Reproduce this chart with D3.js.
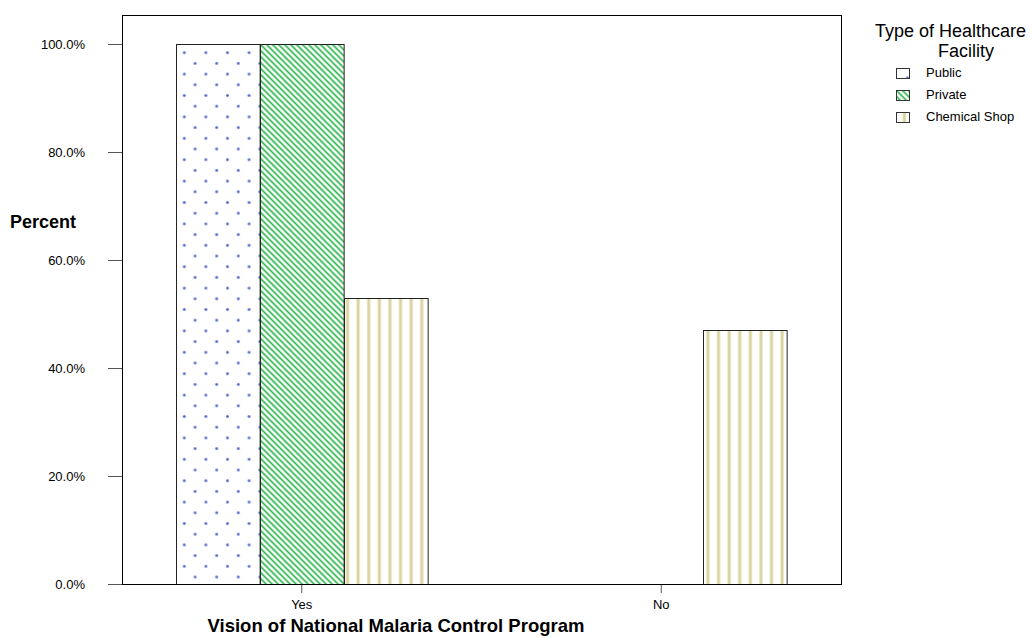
<!DOCTYPE html>
<html><head><meta charset="utf-8">
<script src="https://cdn.jsdelivr.net/npm/d3@7"></script>
<style>
body{margin:0;background:#fff}
svg{display:block}
text{font-family:"Liberation Sans",Arial,sans-serif;fill:#000}
</style>
</head><body>
<svg id="c" width="1032" height="638"></svg>
<script>
// ---- data ----
const categories = ["Yes", "No"];
const facilityTypes = ["Public", "Private", "Chemical Shop"];
const publicValues = [100, 0];
const privateValues = [100, 0];
const chemicalShopValues = [53, 47];
const yTickValues = [0, 20, 40, 60, 80, 100];
const yTickLabels = ["0.0%", "20.0%", "40.0%", "60.0%", "80.0%", "100.0%"];
const legendTitleLines = ["Type of Healthcare", "Facility"];
const xAxisTitle = "Vision of National Malaria Control Program";
const yAxisTitle = "Percent";

const seriesValues = [publicValues, privateValues, chemicalShopValues];
const rows = [];
categories.forEach((c, ci) => facilityTypes.forEach((f, fi) => rows.push({cat: c, type: f, fi: fi, value: seriesValues[fi][ci]})));

// ---- layout ----
const svg = d3.select("#c");
const plot = {left: 122, right: 841, top: 15, bottom: 584};
const y = d3.scaleLinear().domain([0, 100]).range([plot.bottom, 44]);
const x0 = d3.scaleBand().domain(categories).range([plot.left, plot.right]).paddingInner(0.302).paddingOuter(0.151);
const x1 = d3.scaleBand().domain(facilityTypes).range([0, x0.bandwidth()]);
const patternIds = ["pPublic", "pPrivate", "pChem"];

// ---- patterns ----
const defs = svg.append("defs");
const pPub = defs.append("pattern").attr("id", "pPublic").attr("patternUnits", "userSpaceOnUse")
  .attr("width", 21.6).attr("height", 21.4).attr("x", x0("Yes") + 2.6).attr("y", y(100) + 3.35);
pPub.append("rect").attr("width", 21.6).attr("height", 21.4).attr("fill", "#fff");
[[5.4, 5.35], [16.2, 16.05]].forEach(p => {
  pPub.append("circle").attr("cx", p[0]).attr("cy", p[1]).attr("r", 1.8).attr("fill", "#d0d5f2");
  pPub.append("circle").attr("cx", p[0]).attr("cy", p[1]).attr("r", 1.2).attr("fill", "#4c5fc6");
});

const pPriv = defs.append("pattern").attr("id", "pPrivate").attr("patternUnits", "userSpaceOnUse")
  .attr("width", 6).attr("height", 6);
pPriv.append("rect").attr("width", 6).attr("height", 6).attr("fill", "#fff");
pPriv.append("path").attr("d", "M-1,-1L7,7M-4,2L2,8M2,-4L8,2")
  .attr("stroke", "#bfeac9").attr("stroke-width", 2.7).attr("fill", "none");
pPriv.append("path").attr("d", "M-1,-1L7,7M-4,2L2,8M2,-4L8,2")
  .attr("stroke", "#44bd62").attr("stroke-width", 1.5).attr("fill", "none");

const pChem = defs.append("pattern").attr("id", "pChem").attr("patternUnits", "userSpaceOnUse")
  .attr("width", 10.6).attr("height", 10).attr("x", x0("Yes") + 2 * x1.bandwidth() + 1);
pChem.append("rect").attr("width", 10.6).attr("height", 10).attr("fill", "#fff");
pChem.append("rect").attr("x", 1).attr("width", 4).attr("height", 10).attr("fill", "#eeeacc");
pChem.append("rect").attr("x", 2).attr("width", 2).attr("height", 10).attr("fill", "#d8d3a0");

// ---- axes ----
const yAxis = svg.append("g").attr("transform", `translate(${plot.left},0)`)
  .call(d3.axisLeft(y).tickValues(yTickValues).tickFormat((d, i) => yTickLabels[i]).tickSize(14).tickPadding(23));
yAxis.select(".domain").remove();
yAxis.selectAll("line").attr("stroke", "#555");
yAxis.selectAll("text").attr("font-size", 13).attr("font-family", "Liberation Sans, Arial, sans-serif").attr("fill", "#000");

const xAxis = svg.append("g").attr("transform", `translate(0,${plot.bottom})`)
  .call(d3.axisBottom(x0).tickSize(9).tickPadding(7));
xAxis.select(".domain").remove();
xAxis.selectAll("line").attr("stroke", "#555");
xAxis.selectAll("text").attr("font-size", 13).attr("font-family", "Liberation Sans, Arial, sans-serif").attr("fill", "#000");

// ---- bars ----
svg.append("g").selectAll("rect").data(rows).join("rect")
  .attr("x", d => Math.round(x0(d.cat) + x1(d.type)) + 0.5)
  .attr("y", d => Math.round(y(d.value)) + 0.5)
  .attr("width", x1.bandwidth())
  .attr("height", d => y(0) - Math.round(y(d.value)))
  .attr("fill", d => `url(#${patternIds[d.fi]})`)
  .attr("stroke", "#222").attr("stroke-width", 1);

// ---- frame ----
svg.append("rect").attr("x", plot.left + 0.5).attr("y", plot.top + 0.5)
  .attr("width", plot.right - plot.left).attr("height", plot.bottom - plot.top)
  .attr("fill", "none").attr("stroke", "#000").attr("stroke-width", 1);

// ---- titles ----
svg.append("text").attr("x", 10).attr("y", 228).attr("font-size", 18).attr("font-weight", "bold").text(yAxisTitle);
svg.append("text").attr("x", 396).attr("y", 632).attr("text-anchor", "middle")
  .attr("font-size", 18.5).attr("font-weight", "bold").text(xAxisTitle);

// ---- legend ----
const lg = svg.append("g");
lg.append("text").attr("x", 875).attr("y", 37).attr("font-size", 18).text(legendTitleLines[0]);
lg.append("text").attr("x", 966).attr("y", 57).attr("font-size", 18).attr("text-anchor", "middle").text(legendTitleLines[1]);
const items = lg.selectAll("g.item").data(facilityTypes).join("g").attr("class", "item")
  .attr("transform", (d, i) => `translate(896,${68 + i * 22})`);
items.append("rect").attr("x", 0.5).attr("y", 0.5).attr("width", 13).attr("height", 10)
  .attr("fill", (d, i) => `url(#${patternIds[i]})`).attr("stroke", "#333");
items.append("text").attr("x", 30).attr("y", 9).attr("font-size", 13).text(d => d);
</script>
</body></html>
